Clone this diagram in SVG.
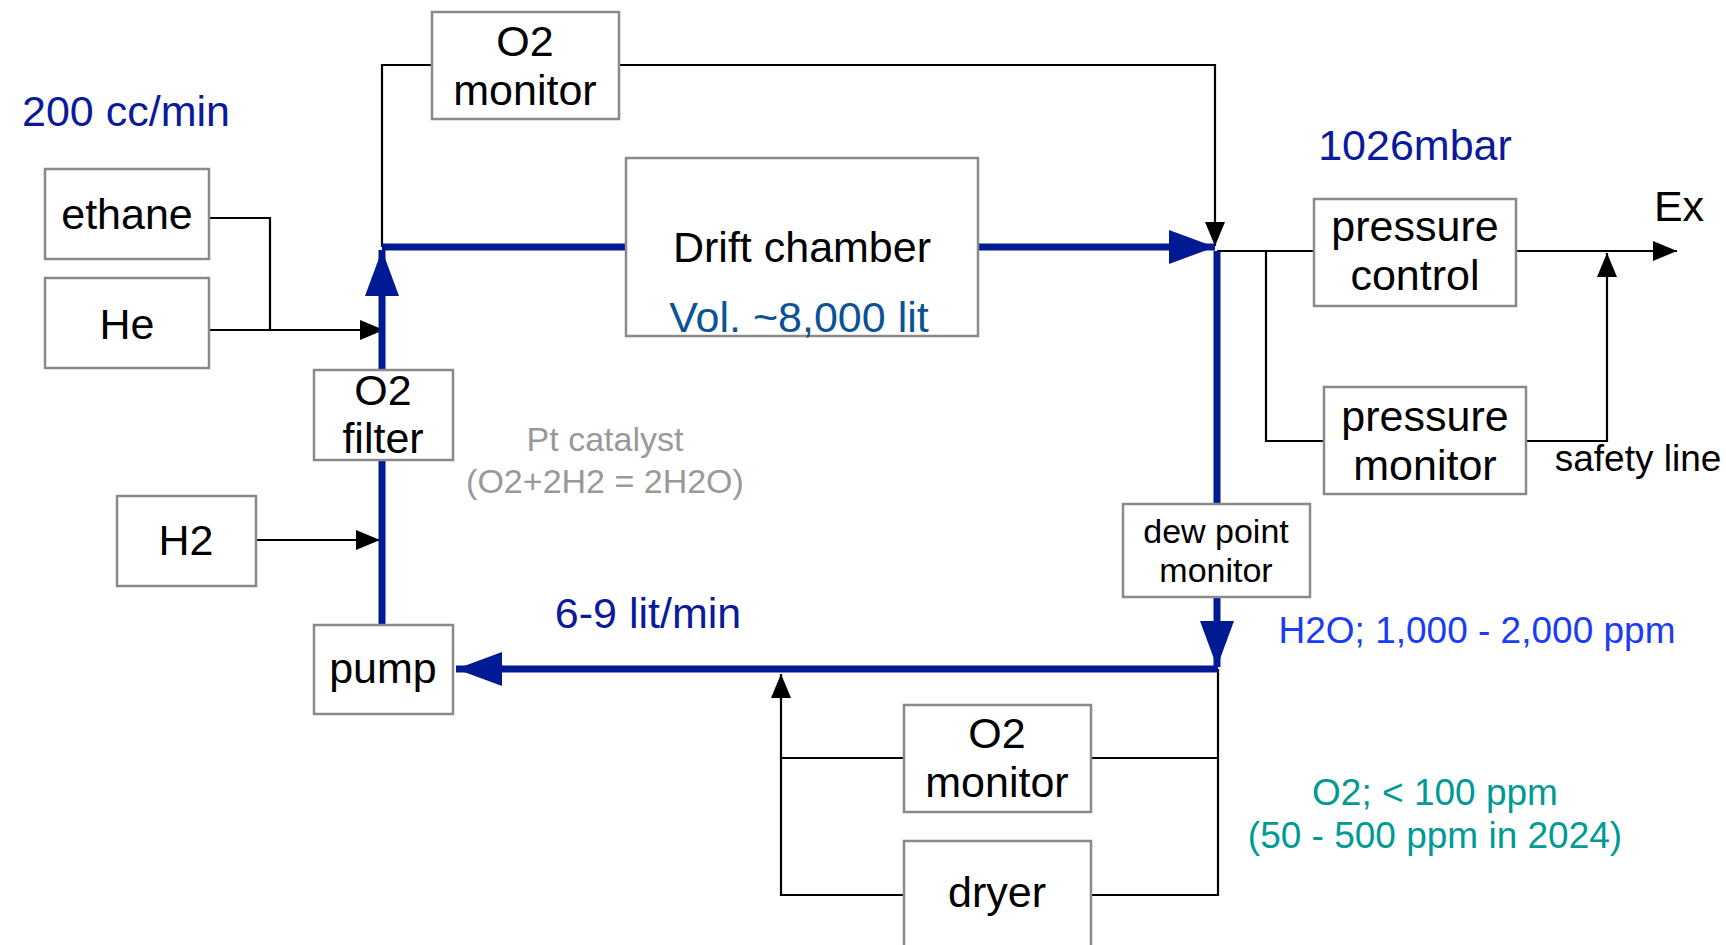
<svg xmlns="http://www.w3.org/2000/svg" width="1726" height="945" viewBox="0 0 1726 945">
<style>
.box{fill:#fff;stroke:#8a8a8a;stroke-width:2.5}
.t{font-family:"Liberation Sans",Arial,Helvetica,sans-serif;font-size:43px;fill:#000;text-anchor:middle}
.s{font-size:34px}
.m{font-size:37px}
.p{font-size:34px}
.bl{fill:none;stroke:#000;stroke-width:2.2}
.bb{fill:none;stroke:#001a94;stroke-width:7}
</style>
<defs>
<marker id="ak" markerUnits="userSpaceOnUse" markerWidth="24" markerHeight="20" refX="24" refY="10" orient="auto"><path d="M0,0 L24,10 L0,20 Z" fill="#000"/></marker>
<marker id="ab" markerUnits="userSpaceOnUse" markerWidth="46" markerHeight="34" refX="46" refY="17" orient="auto"><path d="M0,0 L46,17 L0,34 Z" fill="#001a94"/></marker>
</defs>
<rect width="1726" height="945" fill="#fff"/>
<g id="connectors">
<path class="bl" d="M382,247 V65 H432"/>
<path class="bl" d="M619,65 H1215 V246" marker-end="url(#ak)"/>
<path class="bl" d="M209,218 H270 V330"/>
<path class="bl" d="M209,330 H384" marker-end="url(#ak)"/>
<path class="bl" d="M256,540 H380" marker-end="url(#ak)"/>
<path class="bl" d="M1217,251 H1314"/>
<path class="bl" d="M1516,251 H1677" marker-end="url(#ak)"/>
<path class="bl" d="M1266,251 V441 H1324"/>
<path class="bl" d="M1526,441 H1607 V253" marker-end="url(#ak)"/>
<path class="bl" d="M1218,669 V895 H1091"/>
<path class="bl" d="M904,895 H781 V674" marker-end="url(#ak)"/>
<path class="bl" d="M781,758 H904"/>
<path class="bl" d="M1091,758 H1218"/>
<path class="bb" d="M382,247 H626"/>
<path class="bb" d="M978,247 H1215" marker-end="url(#ab)"/>
<path class="bb" d="M1217,251 V504"/>
<path class="bb" d="M1217,597 V667" marker-end="url(#ab)"/>
<path class="bb" d="M1218,669 H456" marker-end="url(#ab)"/>
<path class="bb" d="M382,625 V460"/>
<path class="bb" d="M382,370 V250" marker-end="url(#ab)"/>
</g>
<g id="o2monitor-top"><rect class="box" x="432" y="12" width="187" height="107"/><text class="t" x="525" y="56">O2</text><text class="t" x="525" y="105">monitor</text></g>
<g id="ethane"><rect class="box" x="45" y="169" width="164" height="90"/><text class="t" x="127" y="229">ethane</text></g>
<g id="he"><rect class="box" x="45" y="278" width="164" height="90"/><text class="t" x="127" y="339">He</text></g>
<g id="drift-chamber"><rect class="box" x="626" y="158" width="352" height="178"/><text class="t" x="802" y="262">Drift chamber</text><text class="t" x="799" y="332" style="fill:#0b5394">Vol. ~8,000 lit</text></g>
<g id="o2filter"><rect class="box" x="314" y="370" width="139" height="90"/><text class="t" x="383" y="405">O2</text><text class="t" x="383" y="453">filter</text></g>
<g id="h2"><rect class="box" x="117" y="496" width="139" height="90"/><text class="t" x="186" y="555">H2</text></g>
<g id="pump"><rect class="box" x="314" y="625" width="139" height="89"/><text class="t" x="383" y="683">pump</text></g>
<g id="pressure-control"><rect class="box" x="1314" y="199" width="202" height="107"/><text class="t" x="1415" y="241">pressure</text><text class="t" x="1415" y="290">control</text></g>
<g id="pressure-monitor"><rect class="box" x="1324" y="387" width="202" height="107"/><text class="t" x="1425" y="431">pressure</text><text class="t" x="1425" y="480">monitor</text></g>
<g id="dewpoint"><rect class="box" x="1123" y="504" width="187" height="93"/><text class="t s" x="1216" y="543">dew point</text><text class="t s" x="1216" y="582">monitor</text></g>
<g id="o2monitor-bottom"><rect class="box" x="904" y="705" width="187" height="107"/><text class="t" x="997" y="748">O2</text><text class="t" x="997" y="797">monitor</text></g>
<g id="dryer"><rect class="box" x="904" y="841" width="187" height="110"/><text class="t" x="997" y="907">dryer</text></g>
<g id="labels">
<text class="t" x="126" y="126" style="fill:#0a1a9a">200 cc/min</text>
<text class="t" x="1415" y="160" style="fill:#0a1a9a">1026mbar</text>
<text class="t" x="1679" y="221">Ex</text>
<text class="t m" x="1638" y="471">safety line</text>
<text class="t p" x="605" y="451" style="fill:#999">Pt catalyst</text>
<text class="t p" x="605" y="493" style="fill:#999">(O2+2H2 = 2H2O)</text>
<text class="t" x="648" y="628" style="fill:#0a1a9a">6-9 lit/min</text>
<text class="t m" x="1477" y="643" style="fill:#1a3cf5">H2O; 1,000 - 2,000 ppm</text>
<text class="t m" x="1435" y="805" style="fill:#009a94">O2; &lt; 100 ppm</text>
<text class="t m" x="1435" y="848" style="fill:#009a94">(50 - 500 ppm in 2024)</text>
</g>
</svg>
